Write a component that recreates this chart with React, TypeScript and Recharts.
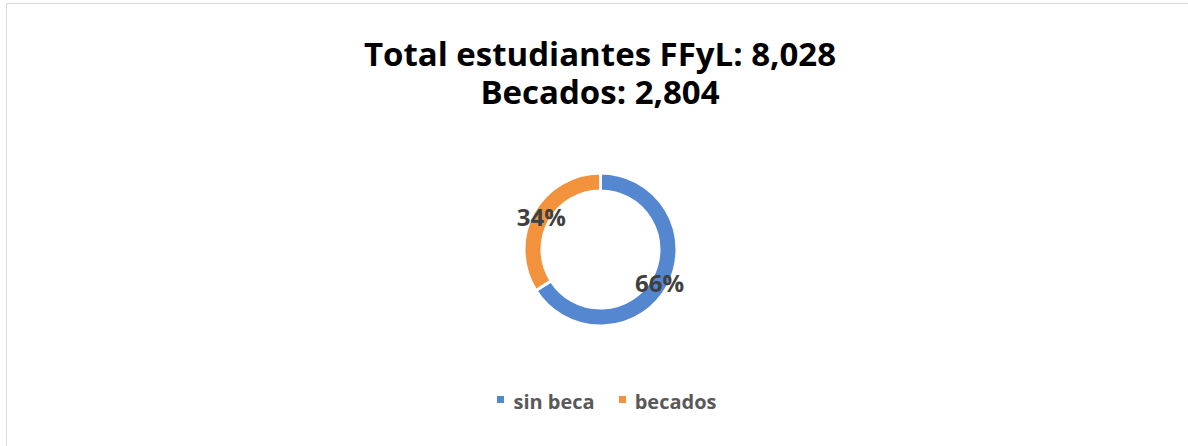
import React from "react";
import { PieChart, Pie, Cell } from "recharts";

const categories = ["sin beca", "becados"];
const percentages = [66, 34];
const colors = ["#5587D1", "#F3923C"];
const titleLines = ["Total estudiantes FFyL: 8,028", "Becados: 2,804"];

const data = categories.map((name, i) => ({ name, value: percentages[i] }));

const FONT = "'Open Sans', Lato, sans-serif";
const RADIAN = Math.PI / 180;

const renderLabel = (props: any) => {
  const { cx, cy, midAngle, innerRadius, outerRadius, value } = props;
  const r = (innerRadius + outerRadius) / 2;
  const x = cx + r * Math.cos(-midAngle * RADIAN);
  const y = cy + r * Math.sin(-midAngle * RADIAN);
  return (
    <text
      x={x}
      y={y}
      textAnchor="middle"
      dominantBaseline="central"
      fill="#404040"
      fontFamily={FONT}
      fontWeight={700}
      fontSize={24}
    >
      {`${value}%`}
    </text>
  );
};

export default function App() {
  return (
    <div
      style={{
        position: "absolute",
        left: 0,
        top: 0,
        width: 1188,
        height: 446,
        overflow: "hidden",
        background: "#fff",
      }}
    >
      <div
        style={{
          position: "absolute",
          left: 6,
          top: 3,
          width: 1300,
          height: 600,
          borderTop: "1.5px solid #d9d9d9",
          borderLeft: "1.5px solid #d9d9d9",
        }}
      />
      <div
        style={{
          position: "absolute",
          left: 0,
          top: 35,
          width: 1200,
          textAlign: "center",
          fontFamily: FONT,
          fontWeight: 700,
          fontSize: 33,
          lineHeight: "38px",
          color: "#000",
        }}
      >
        {titleLines.map((t, i) => (
          <div key={i}>{t}</div>
        ))}
      </div>
      <div style={{ position: "absolute", left: 0, top: 0 }}>
        <PieChart width={1188} height={446} margin={{ top: 0, right: 0, bottom: 0, left: 0 }}>
          <Pie
            data={data}
            dataKey="value"
            nameKey="name"
            cx={600.5}
            cy={249.5}
            innerRadius={58.5}
            outerRadius={76.5}
            startAngle={90}
            endAngle={-270}
            stroke="#ffffff"
            strokeWidth={3}
            label={renderLabel}
            labelLine={false}
            isAnimationActive={false}
          >
            {data.map((d, i) => (
              <Cell key={d.name} fill={colors[i]} />
            ))}
          </Pie>
        </PieChart>
      </div>
      <div
        style={{
          position: "absolute",
          left: 0,
          top: 392,
          width: 1214,
          display: "flex",
          justifyContent: "center",
          alignItems: "center",
          fontFamily: FONT,
          fontWeight: 700,
          fontSize: 20,
          lineHeight: "20px",
          color: "#595959",
        }}
      >
        {categories.map((c, i) => (
          <div
            key={c}
            style={{ display: "flex", alignItems: "center", marginRight: i === 0 ? 24 : 0 }}
          >
            <span
              style={{
                display: "inline-block",
                width: 7,
                height: 7,
                background: colors[i],
                marginRight: 9,
                position: "relative",
                top: -3,
              }}
            />
            <span>{c}</span>
          </div>
        ))}
      </div>
    </div>
  );
}
